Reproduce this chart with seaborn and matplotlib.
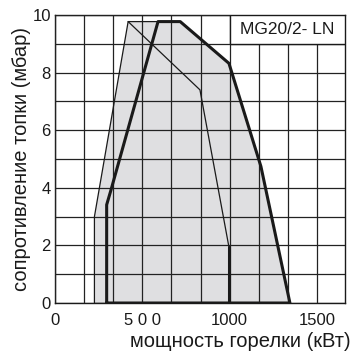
import numpy as np
import pandas as pd
import matplotlib
matplotlib.use("Agg")
import matplotlib.pyplot as plt
from matplotlib.patches import Rectangle
from matplotlib.ticker import MultipleLocator, FixedLocator
import seaborn as sns

# Working field of the burner (kW, mbar)
outer_x = [226, 226, 419, 717, 996, 1179, 1345]
outer_y = [0, 3.0, 9.77, 9.77, 8.32, 4.74, 0]

inner_x = [296, 296, 321, 590, 717, 996, 1179, 1345, 296]
inner_y = [0, 3.41, 3.93, 9.77, 9.77, 8.32, 4.74, 0, 0]

mid_x = [419, 830, 996]
mid_y = [9.77, 7.4, 1.94]
mid_stem_x = [996, 996]
mid_stem_y = [1.94, 0]

x_ticks = [0, 500, 1000, 1500]
x_labels = ["0", "5 0 0", "1000", "1500"]
y_ticks = [0, 2, 4, 6, 8, 10]
model = "MG20/2- LN"

sns.set_style("white")
plt.rcParams["font.family"] = ["Liberation Sans", "DejaVu Sans"]

fig = plt.figure(figsize=(3.5, 3.53), dpi=100)
ax = fig.add_axes([0.157, 0.1416, 0.8286, 0.816])

# filled field
ax.fill(outer_x, outer_y, color="#dfdfe1", zorder=1, lw=0)

# grid
ax.xaxis.set_major_locator(FixedLocator(x_ticks))
ax.xaxis.set_minor_locator(MultipleLocator(500 / 3))
ax.yaxis.set_major_locator(FixedLocator(y_ticks))
ax.yaxis.set_minor_locator(MultipleLocator(1))
ax.grid(which="both", color="#222222", lw=0.9, zorder=2)
ax.set_axisbelow(False)

df_outer = pd.DataFrame({"x": outer_x, "y": outer_y})
df_inner = pd.DataFrame({"x": inner_x, "y": inner_y})
df_mid = pd.DataFrame({"x": mid_x, "y": mid_y})
df_stem = pd.DataFrame({"x": mid_stem_x, "y": mid_stem_y})

sns.lineplot(data=df_outer, x="x", y="y", sort=False, estimator=None,
             color="#1a1a1a", lw=0.9, ax=ax, zorder=3)
ax.plot([outer_x[0], outer_x[-1]], [0, 0], color="#1a1a1a", lw=0.9, zorder=3)
sns.lineplot(data=df_mid, x="x", y="y", sort=False, estimator=None,
             color="#1a1a1a", lw=0.9, ax=ax, zorder=3)
sns.lineplot(data=df_inner, x="x", y="y", sort=False, estimator=None,
             color="#1a1a1a", lw=2.2, ax=ax, zorder=4)
sns.lineplot(data=df_stem, x="x", y="y", sort=False, estimator=None,
             color="#1a1a1a", lw=2.2, ax=ax, zorder=4)

ax.set_xlim(0, 1660)
ax.set_ylim(0, 10)
ax.set_xticklabels(x_labels)
ax.tick_params(axis="both", which="both", length=0, labelsize=12, colors="#1a1a1a")
ax.tick_params(axis="x", pad=7)
ax.tick_params(axis="y", pad=3)

ax.set_xlabel("мощность горелки (кВт)", fontsize=14.5, color="#1a1a1a", ha="right")
ax.xaxis.set_label_coords(1.02, -0.168, transform=ax.transAxes)
ax.xaxis.label.set_va("bottom")
ax.set_ylabel("сопротивление топки (мбар)", fontsize=14.5, color="#1a1a1a", labelpad=1)

for sp in ax.spines.values():
    sp.set_color("#1a1a1a")
    sp.set_linewidth(1.0)
    sp.set_visible(True)

# model label box sits in the top-right grid cells
ax.add_patch(Rectangle((1000, 9), 660, 1, fc="white", ec="#1a1a1a", lw=1.0, zorder=5))
ax.text(1330, 9.5, model, ha="center", va="center",
        fontsize=12.5, color="#1a1a1a", zorder=6)

fig.savefig("out.png", dpi=100)
